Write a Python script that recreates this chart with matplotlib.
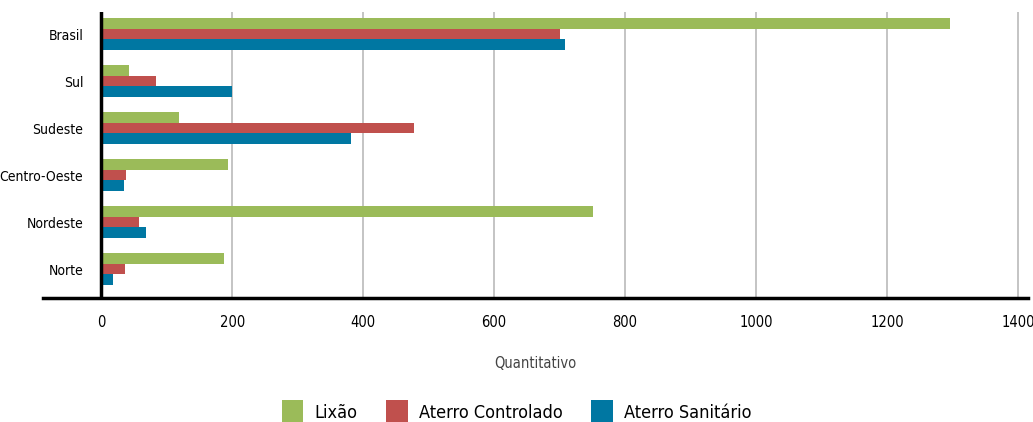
import matplotlib
matplotlib.use("Agg")
import matplotlib.pyplot as plt
from matplotlib import font_manager
from matplotlib.patches import Patch

# font: prefer a narrow face
names = {f.name for f in font_manager.fontManager.ttflist}
if "Liberation Sans Narrow" in names:
    plt.rcParams["font.family"] = "Liberation Sans Narrow"
else:
    plt.rcParams["font.family"] = "DejaVu Sans"
    plt.rcParams["font.stretch"] = "condensed"

regioes = ["Norte", "Nordeste", "Centro-Oeste", "Sudeste", "Sul", "Brasil"]
lixao = [187, 751, 193, 119, 42, 1297]
aterro_controlado = [37, 57, 38, 478, 83, 701]
aterro_sanitario = [18, 69, 35, 381, 200, 709]
series = ["Lixão", "Aterro Controlado", "Aterro Sanitário"]
cores = ["#9BBB59", "#C0504D", "#0077A2"]
xticks = [0, 200, 400, 600, 800, 1000, 1200, 1400]

fig = plt.figure(figsize=(10.33, 4.22), dpi=100)
ax = fig.add_axes([0.0416, 0.2938, 0.9533, 0.6777])

h = 0.227
y = list(range(len(regioes)))
for vals, off, cor in zip([lixao, aterro_controlado, aterro_sanitario], [h, 0, -h], cores):
    ax.barh([v + off for v in y], vals, height=h, color=cor, zorder=3)

ax.set_xlim(-89, 1415)
ax.set_ylim(-0.617, 5.468)
ax.set_yticks(y)
ax.set_yticklabels(regioes, fontsize=10)
ax.set_xticks(xticks)
ax.set_xticklabels([str(t) for t in xticks], fontsize=10.5)
ax.tick_params(axis="both", length=0)
ax.tick_params(axis="x", pad=12)
# labels sit just left of the zero line, not at the axes edge
ax.tick_params(axis="y", pad=-29)

for t in xticks[1:]:
    ax.axvline(t, color="#bfbfbf", lw=1.3, zorder=1)
ax.axvline(0, color="black", lw=2.5, zorder=4)

for s in ["top", "right", "left"]:
    ax.spines[s].set_visible(False)
ax.spines["bottom"].set_linewidth(2.5)
ax.spines["bottom"].set_zorder(5)

ax.set_xlabel("Quantitativo", fontsize=10.5, color="#444444", labelpad=19)

handles = [Patch(facecolor=c, label=s) for c, s in zip(cores, series)]
fig.legend(handles=handles, loc="lower center", bbox_to_anchor=(0.5, -0.045),
           ncol=3, frameon=False, fontsize=13, handlelength=1.2, handleheight=1.7,
           handletextpad=0.6, columnspacing=1.6)

fig.savefig("out.png", dpi=100)
